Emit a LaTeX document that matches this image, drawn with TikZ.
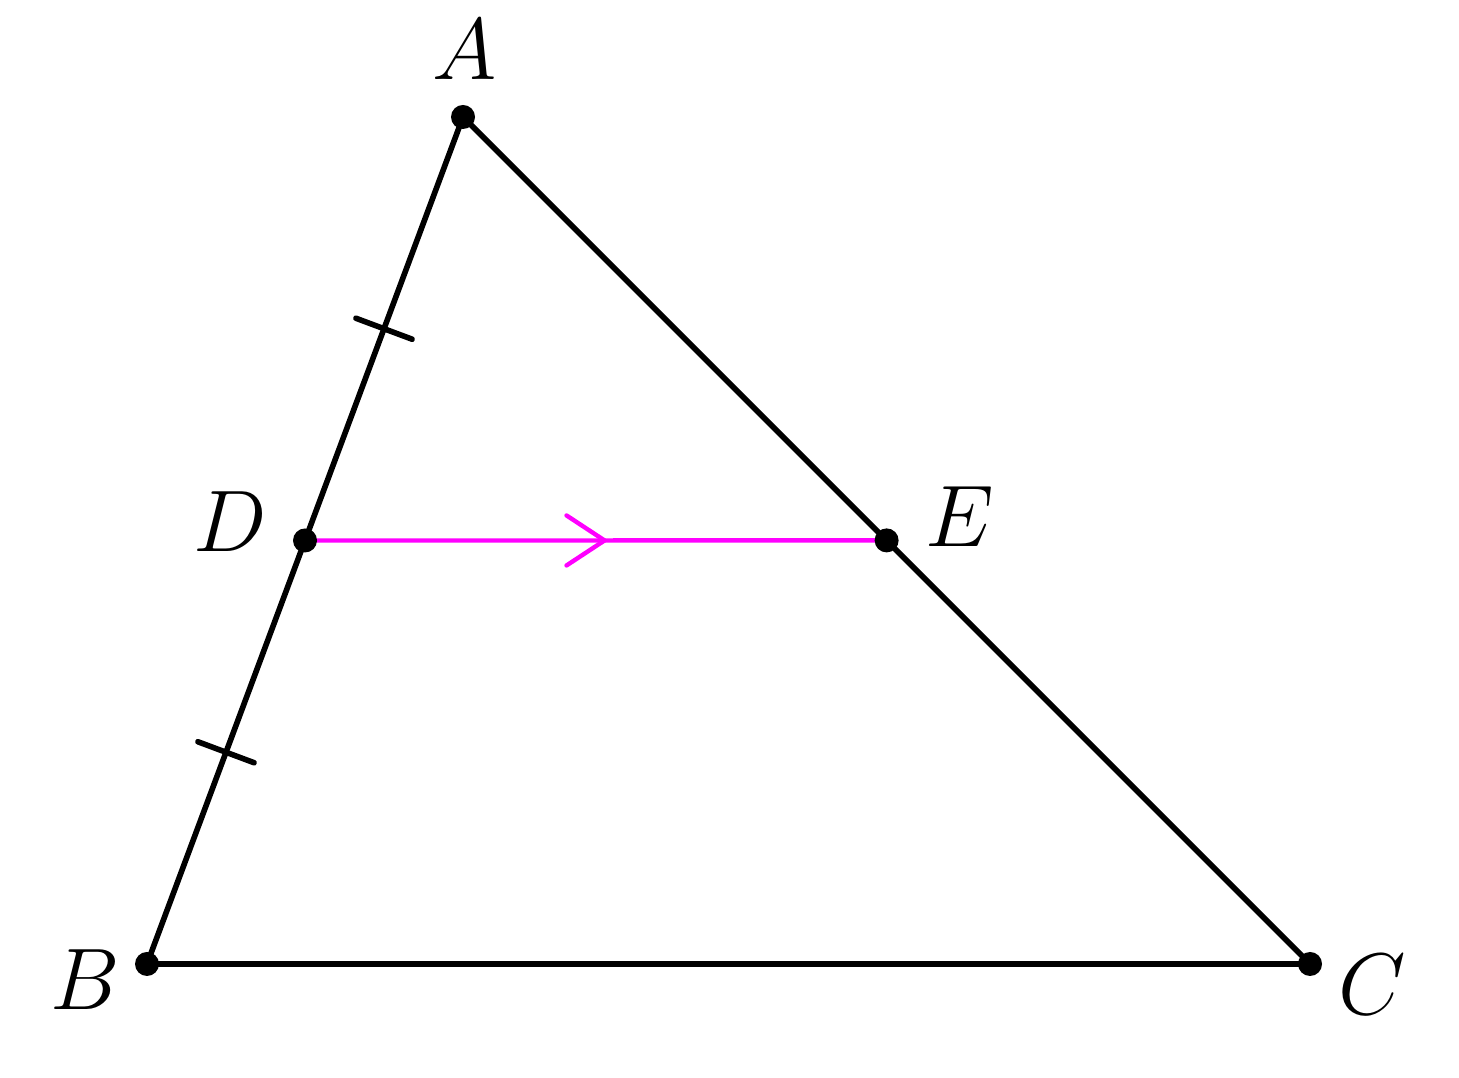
\documentclass[tikz,border=0pt]{standalone}
\usetikzlibrary{calc}
\definecolor{pmagenta}{RGB}{255,0,255}
\begin{document}
\begin{tikzpicture}[line cap=round,line join=round]
\tikzset{lbl/.style={font=\fontsize{27}{32}\selectfont},
dot/.style={fill=black}}
\useasboundingbox (0,0) rectangle (14.59,10.78);
\coordinate (A) at (4.63,9.61);
\coordinate (B) at (1.47,1.14);
\coordinate (C) at (13.10,1.14);
\coordinate (D) at ($(A)!0.5!(B)$);
\coordinate (E) at (intersection of A--C and D--{$(D)+(1,0)$});
\coordinate (M) at ($(D)!0.515!(E)$);
\coordinate (T1) at ($(A)!0.25!(B)$);
\coordinate (T2) at ($(A)!0.75!(B)$);
\draw [line width=1.6pt](A)--(B)--(C)--cycle;
\draw [pmagenta,line width=1.25pt](D)--(E);
\draw [pmagenta,line width=1.25pt]($(M)+(-0.38,0.25)$)--(M)--($(M)+(-0.38,-0.25)$);
\draw [line width=1.6pt]($(T1)!0.3cm!90:(B)$)--($(T1)!0.3cm!-90:(B)$)
($(T2)!0.3cm!90:(B)$)--($(T2)!0.3cm!-90:(B)$);
\foreach \p in {A,B,C,D,E} \fill[dot] (\p) circle (0.12);
\node [lbl] (lA) at (4.65,10.28){$A$};
\node [lbl] (lB) at (0.85,0.98){$B$};
\node [lbl] (lC) at (13.72,0.93){$C$};
\node [lbl] (lD) at (2.30,5.56){$D$};
\node [lbl] (lE) at (9.60,5.61){$E$};
\end{tikzpicture}
\end{document}
